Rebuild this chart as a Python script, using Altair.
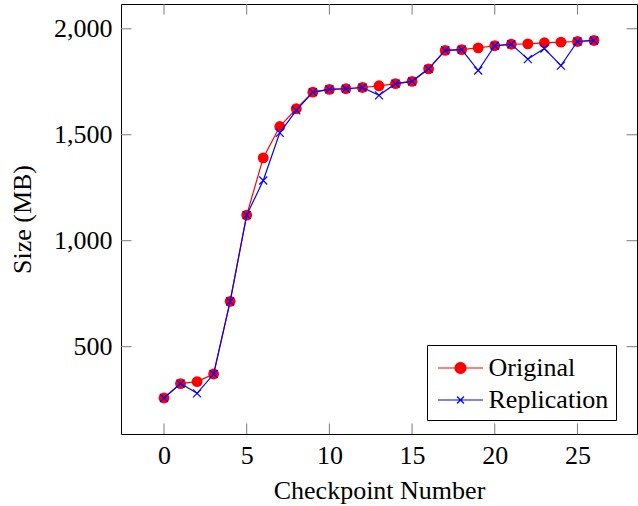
import altair as alt
import pandas as pd

checkpoints = [0, 1, 2, 3, 4, 5, 6, 7, 8, 9, 10, 11, 12, 13, 14, 15, 16, 17, 18, 19, 20, 21, 22, 23, 24, 25, 26]
original = [258, 326, 335, 371, 714, 1121, 1391, 1539, 1623, 1701, 1714, 1717, 1723, 1731, 1741, 1752, 1811,
            1898, 1902, 1910, 1920, 1927, 1929, 1934, 1937, 1940, 1945]
replication = [258, 326, 280, 371, 714, 1121, 1284, 1509, 1615, 1701, 1714, 1717, 1723, 1686, 1741, 1752, 1811,
               1898, 1902, 1803, 1920, 1927, 1857, 1907, 1826, 1940, 1945]
series_names = ["Original", "Replication"]
series_colors = ["red", "blue"]
x_ticks = [0, 5, 10, 15, 20, 25]
y_ticks = [500, 1000, 1500, 2000]

n = len(checkpoints)
df = pd.DataFrame({
    "checkpoint": checkpoints * 2,
    "size": original + replication,
    "series": [series_names[0]] * n + [series_names[1]] * n,
})
xt = pd.DataFrame({"checkpoint": x_ticks})
yt = pd.DataFrame({"size": y_ticks})

FONT = "Liberation Serif"
FS = 26
W, H = 516, 430
TICK = 10.5
TICK_COLOR = "#7a7a7a"

X_DOMAIN = [-2.6, 28.6]
Y_DOMAIN = [88, 2117]
xs = alt.Scale(domain=X_DOMAIN, nice=False, zero=False)
ys = alt.Scale(domain=Y_DOMAIN, nice=False, zero=False)

x_axis = alt.Axis(values=x_ticks, ticks=False, tickSize=0, domain=False, grid=False,
                  labelFont=FONT, labelFontSize=FS, labelColor="black", labelBaseline="alphabetic",
                  labelPadding=29, labelFlush=False,
                  title="Checkpoint Number", titleFont=FONT, titleFontSize=FS, titleFontWeight="normal",
                  titleColor="black", titleBaseline="alphabetic", titleY=64)
y_axis = alt.Axis(values=y_ticks, labelExpr="format(datum.value, ',')", ticks=False, tickSize=0,
                  domain=False, grid=False,
                  labelFont=FONT, labelFontSize=FS, labelColor="black", labelPadding=9, labelFlush=False,
                  title="Size (MB)", titleFont=FONT, titleFontSize=FS, titleFontWeight="normal",
                  titleColor="black", titleBaseline="alphabetic", titleX=-91)

X_ENC = alt.X("checkpoint:Q", scale=xs, axis=x_axis)
Y_ENC = alt.Y("size:Q", scale=ys, axis=y_axis)

base = alt.Chart(df).encode(x=X_ENC, y=Y_ENC)

XPATH = "M-1,-1L1,1M-1,1L1,-1"

orig = base.transform_filter(alt.datum.series == series_names[0])
rep = base.transform_filter(alt.datum.series == series_names[1])

orig_line = orig.mark_line(color=series_colors[0], strokeWidth=1.2)
orig_pts = orig.mark_circle(color=series_colors[0], size=118, opacity=1)
rep_line = rep.mark_line(color=series_colors[1], strokeWidth=1.2)
rep_pts = rep.mark_point(shape=XPATH, color=series_colors[1], size=64, strokeWidth=1.2, filled=False, opacity=1)

# inward ticks on all four sides
bottom_ticks = alt.Chart(xt).mark_rule(color=TICK_COLOR, strokeWidth=1).encode(
    x=X_ENC, y=alt.value(H), y2=alt.value(H - TICK))
top_ticks = alt.Chart(xt).mark_rule(color=TICK_COLOR, strokeWidth=1).encode(
    x=X_ENC, y=alt.value(0), y2=alt.value(TICK))
left_ticks = alt.Chart(yt).mark_rule(color=TICK_COLOR, strokeWidth=1).encode(
    y=Y_ENC, x=alt.value(0), x2=alt.value(TICK))
right_ticks = alt.Chart(yt).mark_rule(color=TICK_COLOR, strokeWidth=1).encode(
    y=Y_ENC, x=alt.value(W), x2=alt.value(W - TICK))

# legend symbols: line + marker
r_c = 0.367
P_ORIG = (f"M-1.5,0L1.5,0M-{r_c},0A{r_c},{r_c},0,1,1,{r_c},0A{r_c},{r_c},0,1,1,-{r_c},0Z")
q = 0.233
P_REP = f"M-1.5,0L1.5,0M-{q},-{q}L{q},{q}M-{q},{q}L{q},-{q}"

leg = alt.Legend(title=None, orient="none", legendX=306, legendY=341, direction="vertical",
                 padding=7, strokeColor="black", fillColor="white", cornerRadius=0,
                 labelFont=FONT, labelFontSize=FS, labelColor="black", labelLimit=400,
                 symbolSize=900, symbolStrokeWidth=1.2, symbolOffset=10.5, labelOffset=12,
                 rowPadding=3, symbolOpacity=1)

legend_layer = alt.Chart(df).transform_filter("false").mark_point(
    filled=True, size=900, strokeWidth=1.2, opacity=1
).encode(
    x=X_ENC,
    y=Y_ENC,
    fill=alt.Fill("series:N", scale=alt.Scale(domain=series_names, range=series_colors), legend=leg),
    stroke=alt.Stroke("series:N", scale=alt.Scale(domain=series_names, range=series_colors), legend=leg),
    shape=alt.Shape("series:N", scale=alt.Scale(domain=series_names, range=[P_ORIG, P_REP]), legend=leg),
)

chart = alt.layer(
    orig_line, orig_pts, rep_line, rep_pts,
    bottom_ticks, top_ticks, left_ticks, right_ticks,
    legend_layer,
).properties(
    width=W, height=H,
    padding={"left": 121, "top": 4, "right": 1, "bottom": 72},
    autosize="none",
    background="white",
).configure_view(stroke="black", strokeWidth=1)

chart.save("out.html", embed_options={"renderer": "svg", "actions": False})
